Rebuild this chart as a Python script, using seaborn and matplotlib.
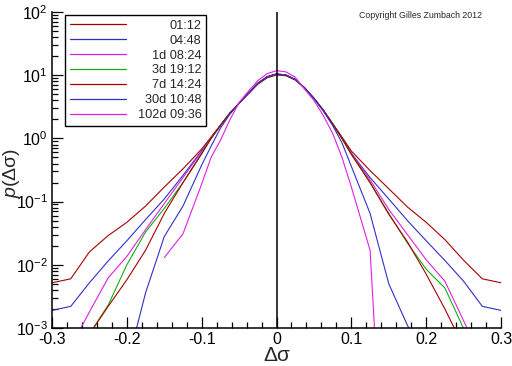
import numpy as np
import pandas as pd
import matplotlib
matplotlib.use("Agg")
import matplotlib.pyplot as plt
import seaborn as sns
from matplotlib.ticker import MultipleLocator, FuncFormatter

nan = np.nan

# volatility change grid (shared by all horizons)
dsigma = [-0.3, -0.275, -0.25, -0.225, -0.2, -0.175, -0.15, -0.125, -0.1,
          -0.0875, -0.075, -0.0625, -0.05, -0.0375, -0.025, -0.0125, 0.0,
          0.0125, 0.025, 0.0375, 0.05, 0.0625, 0.075, 0.0875,
          0.1, 0.125, 0.15, 0.175, 0.2, 0.225, 0.25, 0.275, 0.3]

# densities, one list per horizon
p_0112 = [0.0052, 0.006, 0.016, 0.029, 0.047, 0.085, 0.17, 0.33, 0.68,
          1.05, 1.62, 2.5, 3.6, 5.1, 7.2, 9.1, 10.1, 9.8, 8.4, 6.3, 4.3, 2.8, 1.72, 1.05,
          0.63, 0.31, 0.16, 0.082, 0.047, 0.025, 0.0118, 0.006, 0.0052]
p_0448 = [0.0019, 0.0022, 0.0052, 0.0115, 0.024, 0.052, 0.11, 0.26, 0.64,
          1.0, 1.6, 2.5, 3.6, 5.2, 7.4, 9.3, 10.3, 10.0, 8.5, 6.3, 4.3, 2.8, 1.7, 1.0,
          0.58, 0.24, 0.11, 0.05, 0.024, 0.0117, 0.0055, 0.0022, 0.0019]
p_1d = [nan, 0.0005, 0.0018, 0.0062, 0.0136, 0.036, 0.093, 0.24, 0.62,
        1.0, 1.6, 2.5, 3.6, 5.2, 7.5, 9.5, 10.5, 10.1, 8.6, 6.3, 4.3, 2.8, 1.7, 1.0,
        0.58, 0.22, 0.075, 0.03, 0.012, 0.0055, 0.0013, 0.0003, nan]
p_3d = [nan, nan, 0.0008, 0.0023, 0.010, 0.033, 0.078, 0.2, 0.58,
        1.0, 1.6, 2.5, 3.6, 5.2, 7.4, 9.4, 10.4, 10.0, 8.5, 6.3, 4.3, 2.8, 1.7, 1.0,
        0.56, 0.2, 0.065, 0.022, 0.0085, 0.0043, 0.00098, 0.0003, nan]
p_7d = [nan, nan, 0.0008, 0.0022, 0.0058, 0.017, 0.065, 0.2, 0.57,
        1.0, 1.6, 2.5, 3.6, 5.2, 7.4, 9.4, 10.4, 10.0, 8.5, 6.3, 4.3, 2.8, 1.7, 1.0,
        0.56, 0.2, 0.063, 0.023, 0.0071, 0.002, 0.0005, nan, nan]
p_30d = [nan, nan, nan, nan, 0.00025, 0.0036, 0.028, 0.085, 0.38,
         0.75, 1.45, 2.4, 3.6, 5.2, 7.5, 9.5, 10.5, 10.1, 8.6, 6.3, 4.3, 2.7, 1.6, 0.85,
         0.36, 0.065, 0.005, 0.0011, 0.0003, nan, nan, nan, nan]
p_102d = [nan, nan, nan, nan, nan, nan, 0.013, 0.031, 0.19,
          0.5, 0.93, 1.95, 3.7, 5.6, 8.2, 10.6, 11.8, 11.3, 9.3, 6.0, 4.0, 2.3, 1.2, 0.5,
          0.17, 0.017, 1e-7, nan, nan, nan, nan, nan, nan]

horizons = ["01:12", "04:48", "1d 08:24", "3d 19:12", "7d 14:24", "30d 10:48", "102d 09:36"]
colors = ["#a80000", "#3030c8", "#e020e0", "#10b010", "#a80000", "#3030c8", "#e020e0"]

series = [p_0112, p_0448, p_1d, p_3d, p_7d, p_30d, p_102d]
df = pd.concat([pd.DataFrame({"dsigma": dsigma, "p": vals, "horizon": name})
                for name, vals in zip(horizons, series)], ignore_index=True)
df = df.dropna()

sns.set_theme(style="ticks")
plt.rcParams["font.family"] = ["Liberation Sans", "DejaVu Sans"]
plt.rcParams["axes.unicode_minus"] = False
plt.rcParams["mathtext.fontset"] = "custom"
plt.rcParams["mathtext.rm"] = "Liberation Sans"
plt.rcParams["mathtext.it"] = "Liberation Sans:italic"

fig = plt.figure(figsize=(5.12, 3.66), dpi=100)
ax = fig.add_axes([0.1016, 0.1038, 0.877, 0.8634])
ax.set_yscale("log")

sns.lineplot(data=df, x="dsigma", y="p", hue="horizon", hue_order=horizons,
             palette=colors, estimator=None, sort=False, linewidth=0.8, ax=ax)

ax.axvline(0, color="black", linewidth=1.1, zorder=5)

ax.set_xlim(-0.3, 0.3)
ax.set_ylim(1e-3, 1e2)
ax.xaxis.set_major_locator(MultipleLocator(0.1))
ax.xaxis.set_minor_locator(MultipleLocator(0.02))
ax.xaxis.set_major_formatter(FuncFormatter(lambda v, _: "0" if abs(v) < 1e-9 else f"{v:.1f}"))
ax.tick_params(which="both", direction="in", colors="black", labelsize=11.5, width=0.9)
ax.tick_params(which="major", length=8, pad=3)
ax.tick_params(which="minor", length=4)

for side in ["top", "right"]:
    ax.spines[side].set_visible(False)
for side in ["left", "bottom"]:
    ax.spines[side].set_color("black")
    ax.spines[side].set_linewidth(1.1)

ax.set_xlabel("Δσ", fontsize=15)
ax.set_ylabel("$p$(Δσ)", fontsize=14)
ax.xaxis.set_label_coords(0.5, -0.058)
ax.yaxis.set_label_coords(-0.066, 0.49)

handles, labels = ax.get_legend_handles_labels()
leg = ax.legend(handles, labels, loc="upper left", bbox_to_anchor=(0.029, 0.99),
                borderaxespad=0, fontsize=9.2, handlelength=4.4, handletextpad=0.95,
                labelspacing=0.23, borderpad=0.35, frameon=True, fancybox=False,
                framealpha=1, edgecolor="black")
leg.get_frame().set_linewidth(1.0)
for line in leg.get_lines():
    line.set_linewidth(0.9)

# right-align the legend labels inside their column
renderer = fig.canvas.get_renderer()
widths = [t.get_window_extent(renderer).width for t in leg.get_texts()]
for t, w in zip(leg.get_texts(), widths):
    t.set_position((max(widths) - w, 0))

fig.text(0.7006, 0.957, "Copyright Gilles Zumbach 2012", fontsize=6.3, va="center", ha="left")

fig.savefig("out.png", dpi=100, facecolor="white")
